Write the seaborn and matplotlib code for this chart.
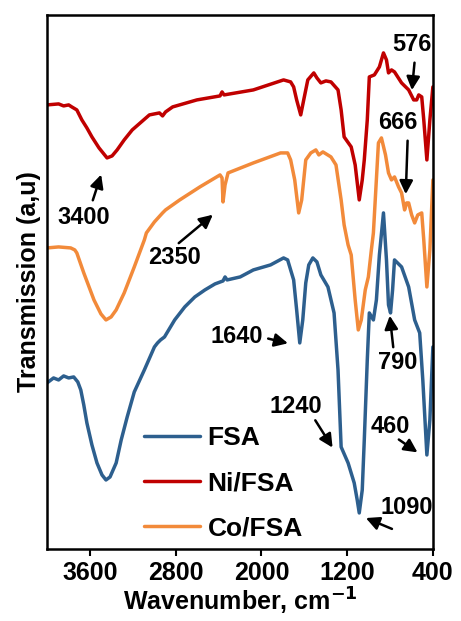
import numpy as np
import pandas as pd
import matplotlib
matplotlib.use("Agg")
import matplotlib.pyplot as plt
import seaborn as sns

# FTIR spectra (wavenumber in cm-1, transmission in a.u.)
wn_ni = [4000, 3892, 3845, 3798, 3769, 3722, 3675, 3628, 3581, 3515, 3440, 3393, 3346, 3280,
         3205, 3045, 2951, 2922, 2894, 2828, 2602, 2386, 2367, 2348, 2075, 1793, 1727, 1699,
         1671, 1633, 1605, 1567, 1511, 1482, 1445, 1398, 1351, 1285, 1256, 1228, 1162, 1125,
         1087, 1059, 1040, 1012, 993, 946, 899, 861, 833, 814, 786, 758, 692, 626, 579, 551,
         532, 504, 485, 456, 428, 400]
t_ni = [444, 445, 443, 444, 442, 439, 429, 421, 412, 401, 391, 393, 399, 409,
        419, 434, 436, 433, 437, 442, 449, 453, 457, 454, 459, 469, 467, 462,
        449, 434, 449, 469, 476, 471, 466, 468, 467, 459, 439, 412, 402, 384,
        349, 369, 389, 429, 472, 474, 482, 496, 489, 476, 479, 477, 466, 459, 449, 449,
        454, 452, 429, 389, 429, 462]

wn_co = [4000, 3892, 3779, 3741, 3722, 3657, 3562, 3497, 3450, 3402, 3355, 3280, 3186, 3092,
         3073, 2998, 2922, 2894, 2762, 2574, 2386, 2367, 2358, 2339, 2311, 2075, 1821, 1755,
         1727, 1689, 1652, 1624, 1586, 1539, 1492, 1464, 1426, 1351, 1304, 1256, 1228, 1191,
         1162, 1125, 1096, 1068, 1031, 1002, 974, 955, 908, 880, 842, 814, 786, 758, 720,
         692, 664, 645, 626, 598, 570, 541, 504, 485, 456, 428, 400]
t_co = [301, 302, 301, 299, 296, 276, 249, 235, 229, 232, 239, 256, 282, 309,
        316, 327, 336, 339, 349, 362, 374, 371, 347, 364, 376, 386, 396, 396,
        389, 369, 336, 349, 389, 396, 399, 394, 397, 392, 384, 349, 324, 304,
        294, 249, 219, 229, 259, 272, 299, 316, 406, 411, 394, 376, 369, 372, 362,
        356, 339, 346, 346, 334, 326, 334, 336, 309, 262, 299, 369]

wn_fsa = [4000, 3939, 3892, 3845, 3798, 3751, 3713, 3685, 3657, 3628, 3581, 3534, 3487, 3450,
          3412, 3355, 3308, 3252, 3186, 3092, 2998, 2969, 2941, 2904, 2809, 2715, 2621, 2527,
          2433, 2358, 2339, 2320, 2198, 2075, 1915, 1793, 1755, 1727, 1699, 1671, 1642, 1614,
          1586, 1558, 1520, 1482, 1445, 1379, 1322, 1285, 1256, 1191, 1134, 1106, 1087, 1059,
          1040, 1012, 993, 955, 927, 899, 861, 833, 814, 795, 776, 758, 692, 626, 570, 523,
          494, 456, 428, 400]
t_fsa = [166, 171, 169, 173, 171, 172, 167, 159, 144, 126, 104, 86, 74, 69,
         72, 86, 109, 132, 157, 179, 202, 206, 209, 212, 229, 242, 252, 259,
         265, 268, 272, 269, 272, 279, 284, 291, 289, 279, 269, 239, 206, 229,
         266, 284, 291, 287, 274, 262, 236, 179, 102, 86, 66, 49, 36, 59,
         109, 189, 236, 229, 249, 294, 336, 289, 244, 236, 259, 289, 282, 262, 229, 216,
         169, 94, 129, 202]

series = ["FSA", "Ni/FSA", "Co/FSA"]
colors = ["#2D5F8E", "#C00000", "#F28A3A"]

df = pd.concat([
    pd.DataFrame({"wn": wn_fsa, "t": t_fsa, "sample": "FSA"}),
    pd.DataFrame({"wn": wn_ni, "t": t_ni, "sample": "Ni/FSA"}),
    pd.DataFrame({"wn": wn_co, "t": t_co, "sample": "Co/FSA"}),
])

# peak labels: (text, text pos, arrow tail, arrow head)
peaks = [
    ("3400", (3657, 331), (3581, 346), (3487, 377)),
    ("2350", (2809, 291), (2791, 304), (2433, 336)),
    ("576", (598, 504), (569, 489), (598, 456)),
    ("666", (729, 426), (635, 411), (654, 352)),
    ("1640", (2226, 212), (1962, 211), (1727, 205)),
    ("790", (729, 186), (767, 199), (805, 236)),
    ("1240", (1680, 142), (1511, 131), (1322, 99)),
    ("460", (795, 122), (739, 111), (522, 95)),
    ("1090", (645, 41), (758, 19), (1049, 32)),
]

sns.set_style("white")
plt.rcParams["font.family"] = ["Liberation Sans", "DejaVu Sans"]
plt.rcParams["text.color"] = "black"
plt.rcParams["axes.labelcolor"] = "black"
plt.rcParams["xtick.color"] = "black"

fig = plt.figure(figsize=(4.61, 6.21), dpi=100)
ax = fig.add_axes([0.102, 0.116, 0.837, 0.860])

sns.lineplot(data=df, x="wn", y="t", hue="sample", hue_order=series,
             palette=colors, sort=False, linewidth=2.5, ax=ax)

ax.set_xlim(4000, 400)
ax.set_ylim(0, 534)
ax.set_xticks([3600, 2800, 2000, 1200, 400])
ax.set_yticks([])
ax.tick_params(axis="x", direction="out", length=5, width=1.5, labelsize=18, pad=4,
               bottom=True, colors="black")
for lab in ax.get_xticklabels():
    lab.set_fontweight("bold")
for sp in ax.spines.values():
    sp.set_linewidth(1.8)
    sp.set_color("black")

ax.set_xlabel("Wavenumber, cm$^{\\mathbf{-1}}$", fontsize=18, fontweight="bold", labelpad=0)
ax.set_ylabel("Transmission (a,u)", fontsize=18, fontweight="bold", labelpad=4)

for txt, tpos, tail, head in peaks:
    ax.text(tpos[0], tpos[1], txt, fontsize=17, fontweight="bold", ha="center", va="center")
    ax.annotate("", xy=head, xytext=tail,
                arrowprops=dict(arrowstyle="-|>", color="black", lw=1.8, mutation_scale=20))

leg = ax.legend(loc="lower left", bbox_to_anchor=(0.19, -0.029), frameon=False,
                handlelength=2.1, handletextpad=0.3, labelspacing=0.8,
                prop={"size": 19, "weight": "bold"})
for line in leg.get_lines():
    line.set_linewidth(2.5)

fig.savefig("out.png", dpi=100)
